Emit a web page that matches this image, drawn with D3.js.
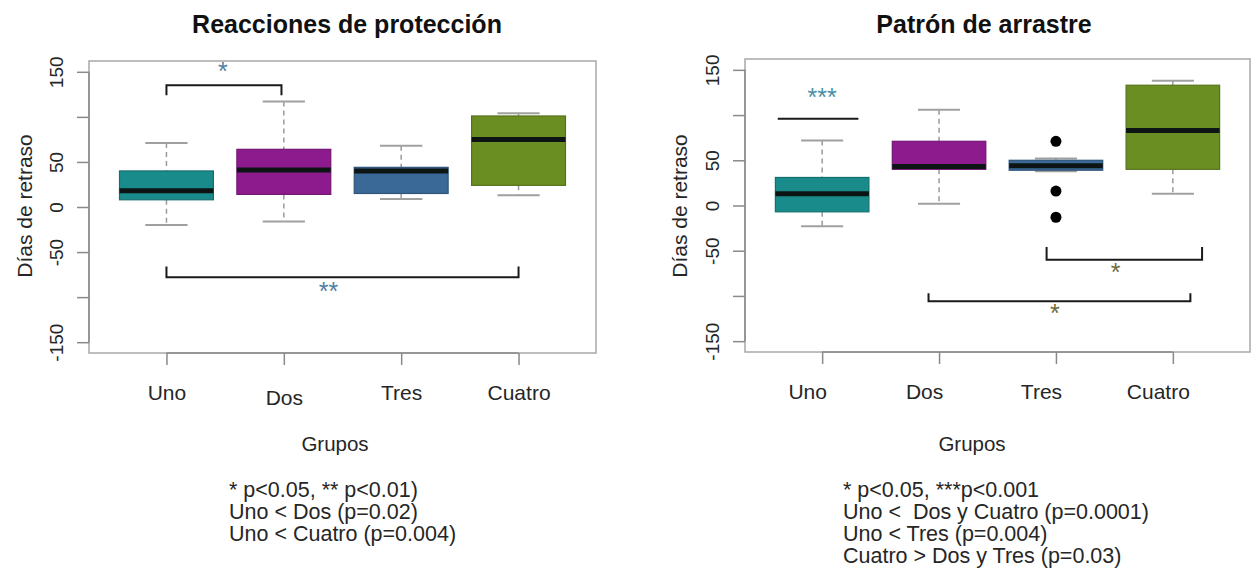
<!DOCTYPE html>
<html>
<head>
<meta charset="utf-8">
<script src="https://cdn.jsdelivr.net/npm/d3@7/dist/d3.min.js"></script>
<style>
  html, body { margin: 0; padding: 0; background: #fff; }
  svg { display: block; font-family: "Liberation Sans", Arial, sans-serif; }
</style>
</head>
<body>
<svg id="chart" width="1253" height="578"></svg>
<script>
// ---------------- data ----------------
const categories = ["Uno", "Dos", "Tres", "Cuatro"];
const boxColors = ["#198b8a", "#8d1b8d", "#3a6897", "#6b8e23"];
const yTicks = [-150, -100, -50, 0, 50, 100, 150];
const yTickLabels = ["-150", "", "-50", "0", "50", "", "150"];

// Panel 1: Reacciones de protección
const protTitle = "Reacciones de protección";
const protLow    = [-20, -16, 9, 13];
const protQ1     = [8, 14, 15, 24];
const protMedian = [18, 41, 40, 75];
const protQ3     = [40, 64, 44, 101];
const protHigh   = [71, 117, 68, 104];
const protOutliers = [[], [], [], []];
// brackets: [xStart, xEnd, yLine, yTickEnd]
const protBrackets = [[1, 1.98, 135, 124], [1, 4, -78, -66]];
// stars: [label, x, y]
const protStars = [["*", 1.48, 157], ["**", 2.38, -88]];
const protNotes = ["* p<0.05, ** p<0.01)", "Uno < Dos (p=0.02)", "Uno < Cuatro (p=0.004)"];

// Panel 2: Patrón de arrastre
const arrTitle = "Patrón de arrastre";
const arrLow    = [-23, 2, 38, 13];
const arrQ1     = [-7, 40, 39, 40];
const arrMedian = [13, 43, 44, 83];
const arrQ3     = [31, 71, 50, 133];
const arrHigh   = [72, 106, 52, 138];
const arrOutliers = [[], [], [71, 16, -13], []];
const arrBrackets = [[0.62, 1.31, 96, 96], [2.92, 4.25, -60, -46], [1.91, 4.15, -106, -97]];
const arrStars = [["***", 1.0, 126], ["*", 3.51, -68], ["*", 2.99, -113]];
const arrNotes = ["* p<0.05, ***p<0.001", "Uno <  Dos y Cuatro (p=0.0001)", "Uno < Tres (p=0.004)", "Cuatro > Dos y Tres (p=0.03)"];

const xAxisTitle = "Grupos";
const yAxisTitle = "Días de retraso";

// ---------------- layout ----------------
const panels = [
  { title: protTitle, low: protLow, q1: protQ1, med: protMedian, q3: protQ3, high: protHigh,
    out: protOutliers, brackets: protBrackets, stars: protStars, notes: protNotes,
    starColors: ["#4f7fa6", "#4f7fa6"],
    fx0: 89, fx1: 596, fy0: 61, fy1: 353, titleX: 347, ylabX: 24, grX: 335, noteX: 229, labDx: 0,
    labDy: [0, 5, 0, 0] },
  { title: arrTitle, low: arrLow, q1: arrQ1, med: arrMedian, q3: arrQ3, high: arrHigh,
    out: arrOutliers, brackets: arrBrackets, stars: arrStars, notes: arrNotes,
    starColors: ["#4a8fa2", "#6d6c3c", "#6d6c3c"],
    fx0: 745, fx1: 1250, fy0: 59, fy1: 352, titleX: 984, ylabX: 679, grX: 972, noteX: 843, labDx: -15,
    labDy: [0, 0, 0, 0] }
];

const svg = d3.select("#chart");
const textCol = "#262626";

panels.forEach(p => {
  const g = svg.append("g");
  const x = d3.scaleLinear().domain([0.34, 4.66]).range([p.fx0, p.fx1]);
  const y = d3.scaleLinear().domain([-162, 162]).range([p.fy1, p.fy0]);

  // frame
  g.append("rect").attr("x", p.fx0).attr("y", p.fy0)
    .attr("width", p.fx1 - p.fx0).attr("height", p.fy1 - p.fy0)
    .attr("fill", "none").attr("stroke", "#a8a8a8").attr("stroke-width", 1.5);

  // y axis
  const yAxis = d3.axisLeft(y).tickValues(yTicks).tickSize(12)
    .tickFormat((d, i) => yTickLabels[i]);
  const ya = g.append("g").attr("transform", `translate(${p.fx0},0)`).call(yAxis);
  ya.select(".domain").attr("d", `M0,${y(150)}V${y(-150)}`).attr("stroke", "#8a8a8a").attr("stroke-width", 1.5);
  ya.selectAll(".tick line").attr("stroke", "#8a8a8a").attr("stroke-width", 1.5);
  ya.selectAll(".tick text")
    .attr("x", 0).attr("y", 0).attr("dy", null)
    .attr("transform", `translate(-33,0) rotate(-90)`)
    .attr("text-anchor", "middle").attr("dominant-baseline", "central")
    .attr("font-size", 19).attr("fill", textCol)
    .style("font-family", "Liberation Sans, Arial, sans-serif");

  // x axis
  const xAxis = d3.axisBottom(x).tickValues([1, 2, 3, 4]).tickSize(12)
    .tickFormat((d, i) => categories[i]);
  const xa = g.append("g").attr("transform", `translate(0,${p.fy1})`).call(xAxis);
  xa.select(".domain").attr("d", `M${x(1)},0H${x(4)}`).attr("stroke", "#8a8a8a").attr("stroke-width", 1.5);
  xa.selectAll(".tick line").attr("stroke", "#8a8a8a").attr("stroke-width", 1.5);
  xa.selectAll(".tick text")
    .attr("y", null).attr("dy", null)
    .attr("x", p.labDx)
    .attr("transform", (d, i) => `translate(0,${47 + p.labDy[i]})`)
    .attr("font-size", 21).attr("fill", textCol)
    .style("font-family", "Liberation Sans, Arial, sans-serif");

  // boxes
  const bw = 0.4, cw = 0.18;
  categories.forEach((c, i) => {
    const cx = x(i + 1);
    const col = boxColors[i];
    // whiskers (dashed)
    g.append("line").attr("x1", cx).attr("x2", cx).attr("y1", y(p.high[i])).attr("y2", y(p.q3[i]))
      .attr("stroke", "#9a9a9a").attr("stroke-width", 1.5).attr("stroke-dasharray", "5,4");
    g.append("line").attr("x1", cx).attr("x2", cx).attr("y1", y(p.q1[i])).attr("y2", y(p.low[i]))
      .attr("stroke", "#9a9a9a").attr("stroke-width", 1.5).attr("stroke-dasharray", "5,4");
    // caps
    [p.high[i], p.low[i]].forEach(v => {
      g.append("line").attr("x1", x(i + 1 - cw)).attr("x2", x(i + 1 + cw)).attr("y1", y(v)).attr("y2", y(v))
        .attr("stroke", "#a0a0a0").attr("stroke-width", 2);
    });
    // box
    g.append("rect").attr("x", x(i + 1 - bw)).attr("width", x(i + 1 + bw) - x(i + 1 - bw))
      .attr("y", y(p.q3[i])).attr("height", y(p.q1[i]) - y(p.q3[i]))
      .attr("fill", col).attr("stroke", d3.color(col).darker(0.6)).attr("stroke-width", 1.2);
    // median
    g.append("line").attr("x1", x(i + 1 - bw)).attr("x2", x(i + 1 + bw))
      .attr("y1", y(p.med[i])).attr("y2", y(p.med[i]))
      .attr("stroke", "#0c1414").attr("stroke-width", 5);
    // outliers
    p.out[i].forEach(v => {
      g.append("circle").attr("cx", cx).attr("cy", y(v)).attr("r", 5.5).attr("fill", "#000");
    });
  });

  // brackets
  p.brackets.forEach(b => {
    const [x1, x2, yl, yt] = b;
    const path = d3.path();
    path.moveTo(x(x1), y(yt));
    path.lineTo(x(x1), y(yl));
    path.lineTo(x(x2), y(yl));
    path.lineTo(x(x2), y(yt));
    g.append("path").attr("d", path.toString()).attr("fill", "none")
      .attr("stroke", "#1a1a1a").attr("stroke-width", 2);
  });

  // stars
  p.stars.forEach((s, i) => {
    g.append("text").attr("x", x(s[1])).attr("y", y(s[2]) + 14)
      .attr("text-anchor", "middle").attr("font-size", 25)
      .attr("fill", p.starColors[i]).text(s[0]);
  });

  // title
  g.append("text").attr("x", p.titleX).attr("y", 33).attr("text-anchor", "middle")
    .attr("font-size", 25).attr("font-weight", "bold").attr("fill", "#111").text(p.title);

  // y axis title
  g.append("text").attr("transform", `translate(${p.ylabX},206) rotate(-90)`)
    .attr("text-anchor", "middle").attr("dominant-baseline", "central")
    .attr("font-size", 21).attr("fill", textCol).text(yAxisTitle);

  // x axis title
  g.append("text").attr("x", p.grX).attr("y", 451).attr("text-anchor", "middle")
    .attr("font-size", 20.5).attr("fill", textCol).text(xAxisTitle);

  // notes
  p.notes.forEach((t, i) => {
    g.append("text").attr("x", p.noteX).attr("y", 497 + i * 22)
      .attr("font-size", 21.5).attr("fill", textCol).style("white-space", "pre")
      .attr("xml:space", "preserve").text(t);
  });
});
</script>
</body>
</html>
